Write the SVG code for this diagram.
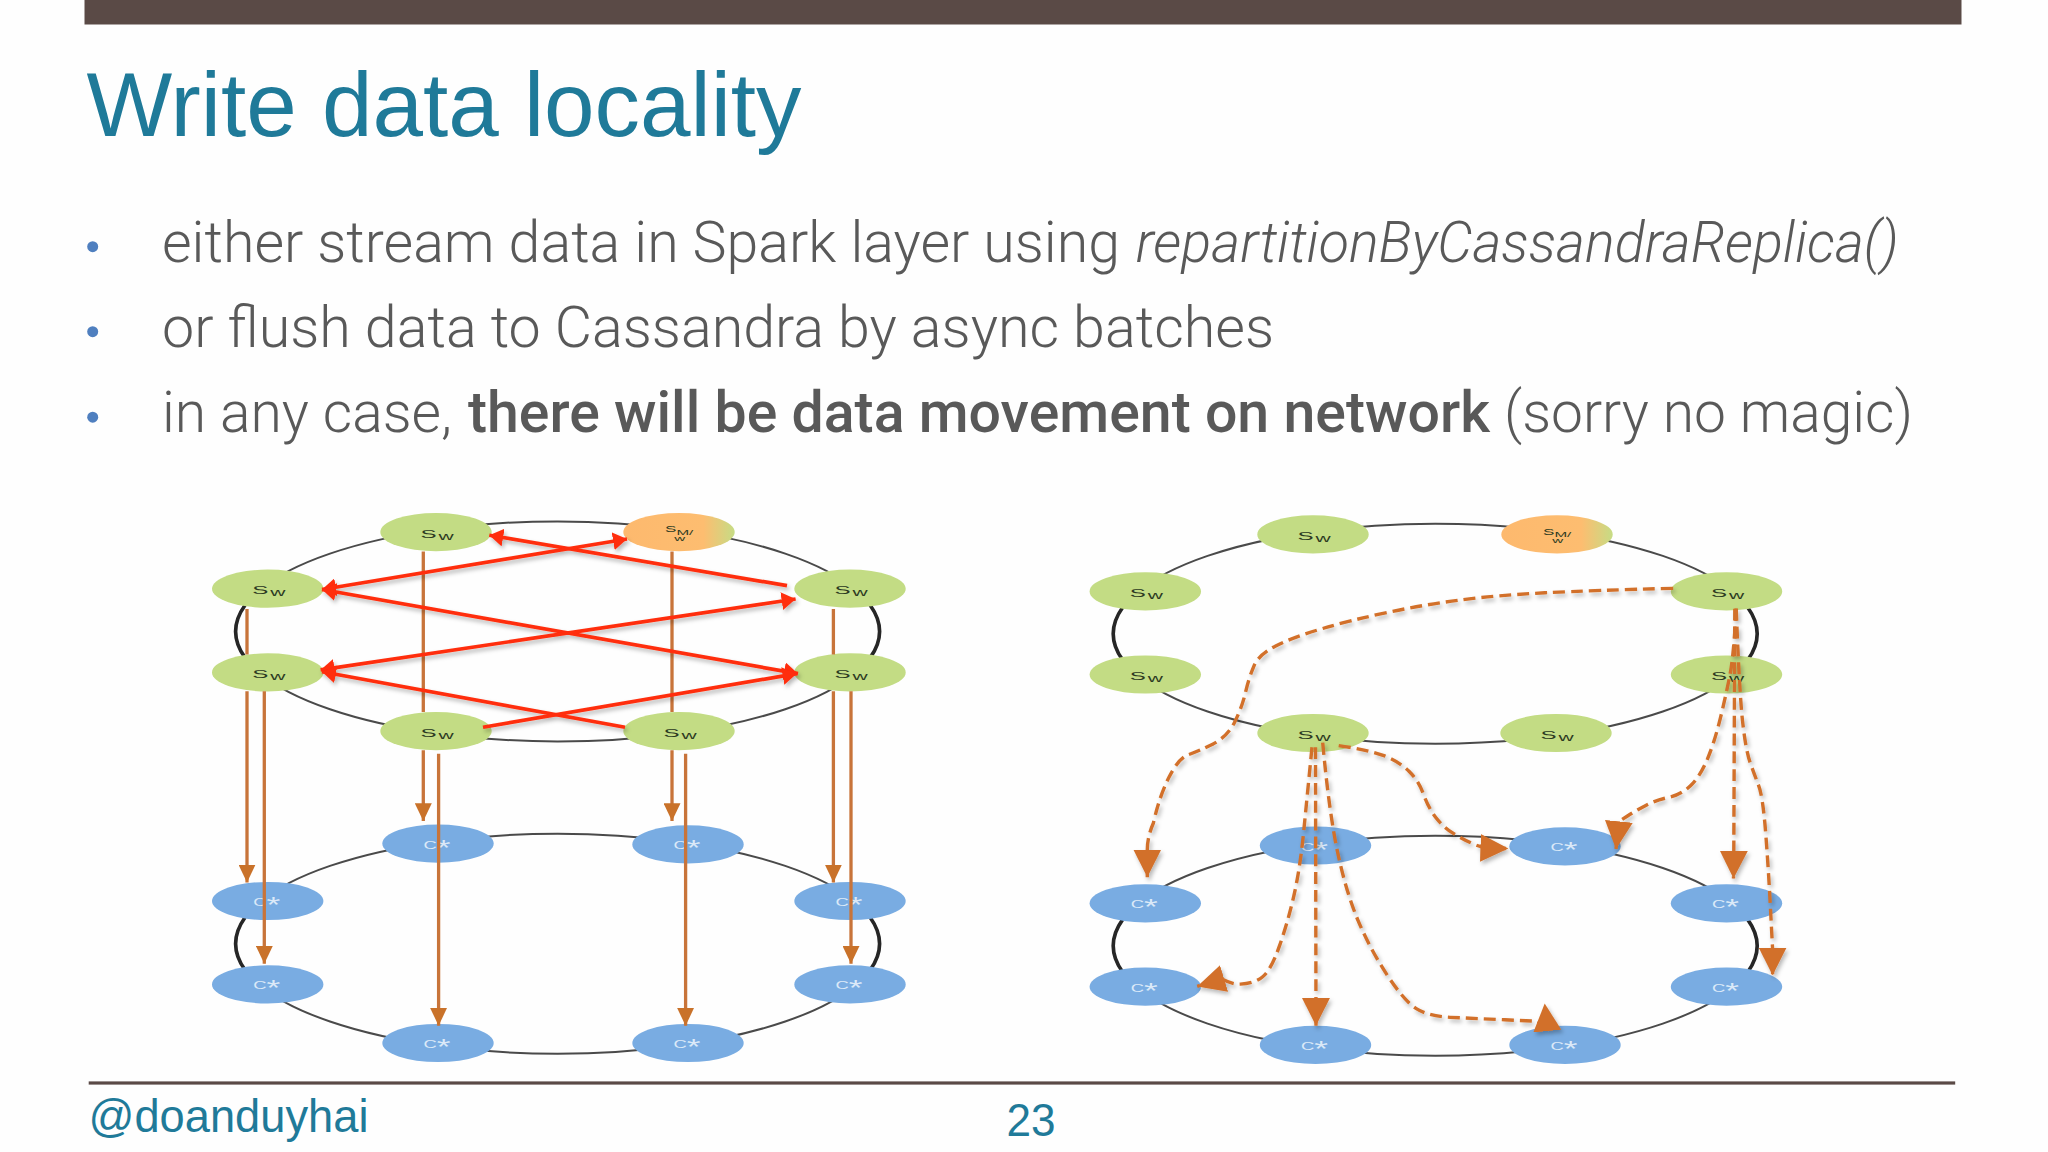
<svg xmlns="http://www.w3.org/2000/svg" width="2048" height="1152" viewBox="0 0 2048 1152">
<style>
.title{font-family:"Liberation Sans",Arial,sans-serif;fill:#1f7a99}
.body{font-family:Roboto,"Liberation Sans",sans-serif;font-weight:300;font-size:58px;fill:#595959}
.b{font-weight:500}
.i{font-style:italic}
.ring{fill:none;stroke:#4a4a4a;stroke-width:2}
.side{fill:none;stroke:#262626;stroke-width:3.6}
.s{fill:#c3dc84}
.c{fill:#79ace2}
.m{fill:url(#smg)}
.st{font-family:"Liberation Sans",Arial,sans-serif;font-size:11.5px;fill:#2c3a22}
.ct{font-family:"Liberation Sans",Arial,sans-serif;font-size:11.5px;fill:#dbe9f8}
.solid{fill:none;stroke:#c8743a;stroke-width:3.3;marker-end:url(#oh)}
.red{fill:none;stroke:#ff2d0c;stroke-width:3.7}
.dash{fill:none;stroke:#d2702a;stroke-width:3.4;stroke-dasharray:12 6;marker-end:url(#bh)}
</style>
<defs>
<linearGradient id="smg" x1="0" y1="0" x2="1" y2="0"><stop offset="0" stop-color="#fdb96e"/><stop offset=".72" stop-color="#fdbd70"/><stop offset="1" stop-color="#c6dc85"/></linearGradient>
<marker id="oh" markerUnits="userSpaceOnUse" markerWidth="18" markerHeight="17" refX="18" refY="8.5" orient="auto"><path d="M0,0L18,8.5L0,17Z" fill="#c9722a"/></marker>
<marker id="rh" markerUnits="userSpaceOnUse" markerWidth="14" markerHeight="18" refX="14" refY="9" orient="auto-start-reverse"><path d="M0,0L14,9L0,18Z" fill="#ff2d0c"/></marker>
<marker id="bh" markerUnits="userSpaceOnUse" markerWidth="28" markerHeight="28" refX="28" refY="14" orient="auto"><path d="M0,0L28,14L0,28Z" fill="#d2702a"/></marker>
<filter id="sh" x="-10%" y="-10%" width="120%" height="120%"><feDropShadow dx="2" dy="3" stdDeviation="2.2" flood-color="#000" flood-opacity=".28"/></filter>
</defs>
<rect width="2048" height="1152" fill="#fefefe"/>
<rect x="84.5" y="0" width="1877" height="24.5" fill="#5a4a46"/>
<text class="title" x="86.5" y="136" font-size="91" textLength="715" lengthAdjust="spacingAndGlyphs">Write data locality</text>
<circle cx="92.7" cy="246.7" r="5.5" fill="#4f7fbf"/>
<circle cx="92.7" cy="331.7" r="5.5" fill="#4f7fbf"/>
<circle cx="92.7" cy="417.2" r="5.5" fill="#4f7fbf"/>
<text class="body" y="261.7"><tspan x="162" textLength="958" lengthAdjust="spacingAndGlyphs">either stream data in Spark layer using</tspan> <tspan class="i" x="1135.7" textLength="763" lengthAdjust="spacingAndGlyphs">repartitionByCassandraReplica()</tspan></text>
<text class="body" x="162" y="346.7" textLength="1112" lengthAdjust="spacingAndGlyphs">or flush data to Cassandra by async batches</text>
<text class="body" y="432.3"><tspan x="162" textLength="290" lengthAdjust="spacingAndGlyphs">in any case,</tspan> <tspan class="b" x="468" textLength="1022" lengthAdjust="spacingAndGlyphs">there will be data movement on network</tspan> <tspan x="1504" textLength="409" lengthAdjust="spacingAndGlyphs">(sorry no magic)</tspan></text>

<g id="rings-left">
<ellipse class="ring" cx="557.6" cy="631.4" rx="321.9" ry="110"/>
<ellipse class="ring" cx="557.6" cy="943.7" rx="321.9" ry="110"/>
<path class="side" d="M245,605.2A321.9,110 0 0 0 245,657.6M870.2,605.2A321.9,110 0 0 1 870.2,657.6M245,917.5A321.9,110 0 0 0 245,969.9M870.2,917.5A321.9,110 0 0 1 870.2,969.9"/>
</g>
<g id="rings-right">
<ellipse class="ring" cx="1435.2" cy="633.7" rx="321.9" ry="110"/>
<ellipse class="ring" cx="1435.2" cy="945.8" rx="321.9" ry="110"/>
<path class="side" d="M1122.6,607.5A321.9,110 0 0 0 1122.6,659.9M1747.8,607.5A321.9,110 0 0 1 1747.8,659.9M1122.6,919.6A321.9,110 0 0 0 1122.6,972M1747.8,919.6A321.9,110 0 0 1 1747.8,972"/>
</g>

<g id="L-S1"><ellipse class="s" cx="436" cy="532.1" rx="55.7" ry="19.1"/><text class="st" transform="translate(420.5 537.7) scale(2.1 1)">S<tspan dx=".9" dy="2" font-size="10">w</tspan></text></g>
<g id="L-SM"><ellipse class="m" cx="679" cy="532.1" rx="55.7" ry="19.1"/><text class="st" style="font-size:9px" transform="translate(665 532.4) scale(1.9 1)">S<tspan dy="2.3" style="font-size:8px">M/</tspan><tspan x="4.9" dy="5.9" style="font-size:8px">w</tspan></text></g>
<g id="L-S2"><ellipse class="s" cx="267.7" cy="588.7" rx="55.7" ry="19.1"/><text class="st" transform="translate(252.2 594.3) scale(2.1 1)">S<tspan dx=".9" dy="2" font-size="10">w</tspan></text></g>
<g id="L-S3"><ellipse class="s" cx="850" cy="588.7" rx="55.7" ry="19.1"/><text class="st" transform="translate(834.5 594.3) scale(2.1 1)">S<tspan dx=".9" dy="2" font-size="10">w</tspan></text></g>
<g id="L-S4"><ellipse class="s" cx="267.7" cy="672.4" rx="55.7" ry="19.1"/><text class="st" transform="translate(252.2 678) scale(2.1 1)">S<tspan dx=".9" dy="2" font-size="10">w</tspan></text></g>
<g id="L-S5"><ellipse class="s" cx="850" cy="672.4" rx="55.7" ry="19.1"/><text class="st" transform="translate(834.5 678) scale(2.1 1)">S<tspan dx=".9" dy="2" font-size="10">w</tspan></text></g>
<g id="L-S6"><ellipse class="s" cx="436" cy="731.1" rx="55.7" ry="19.1"/><text class="st" transform="translate(420.5 736.7) scale(2.1 1)">S<tspan dx=".9" dy="2" font-size="10">w</tspan></text></g>
<g id="L-S7"><ellipse class="s" cx="679" cy="731.1" rx="55.7" ry="19.1"/><text class="st" transform="translate(663.5 736.7) scale(2.1 1)">S<tspan dx=".9" dy="2" font-size="10">w</tspan></text></g>

<g id="L-C1"><ellipse class="c" cx="438" cy="843.6" rx="55.7" ry="19.1"/><text class="ct" transform="translate(423.5 848.6) scale(1.6 1)">C<tspan dy="6" font-size="22">*</tspan></text></g>
<g id="L-C2"><ellipse class="c" cx="688" cy="844.4" rx="55.7" ry="19.1"/><text class="ct" transform="translate(673.5 849.4) scale(1.6 1)">C<tspan dy="6" font-size="22">*</tspan></text></g>
<g id="L-C3"><ellipse class="c" cx="267.7" cy="901" rx="55.7" ry="19.1"/><text class="ct" transform="translate(253.2 906) scale(1.6 1)">C<tspan dy="6" font-size="22">*</tspan></text></g>
<g id="L-C4"><ellipse class="c" cx="850" cy="901" rx="55.7" ry="19.1"/><text class="ct" transform="translate(835.5 906) scale(1.6 1)">C<tspan dy="6" font-size="22">*</tspan></text></g>
<g id="L-C5"><ellipse class="c" cx="267.7" cy="984.4" rx="55.7" ry="19.1"/><text class="ct" transform="translate(253.2 989.4) scale(1.6 1)">C<tspan dy="6" font-size="22">*</tspan></text></g>
<g id="L-C6"><ellipse class="c" cx="850" cy="984.4" rx="55.7" ry="19.1"/><text class="ct" transform="translate(835.5 989.4) scale(1.6 1)">C<tspan dy="6" font-size="22">*</tspan></text></g>
<g id="L-C7"><ellipse class="c" cx="438" cy="1043" rx="55.7" ry="19.1"/><text class="ct" transform="translate(423.5 1048) scale(1.6 1)">C<tspan dy="6" font-size="22">*</tspan></text></g>
<g id="L-C8"><ellipse class="c" cx="688" cy="1043" rx="55.7" ry="19.1"/><text class="ct" transform="translate(673.5 1048) scale(1.6 1)">C<tspan dy="6" font-size="22">*</tspan></text></g>

<g id="R-S1"><ellipse class="s" cx="1313" cy="534.4" rx="55.7" ry="19.1"/><text class="st" transform="translate(1297.5 540) scale(2.1 1)">S<tspan dx=".9" dy="2" font-size="10">w</tspan></text></g>
<g id="R-SM"><ellipse class="m" cx="1557" cy="534.4" rx="55.7" ry="19.1"/><text class="st" style="font-size:9px" transform="translate(1543 534.7) scale(1.9 1)">S<tspan dy="2.3" style="font-size:8px">M/</tspan><tspan x="4.9" dy="5.9" style="font-size:8px">w</tspan></text></g>
<g id="R-S2"><ellipse class="s" cx="1145.3" cy="591.4" rx="55.7" ry="19.1"/><text class="st" transform="translate(1129.8 597) scale(2.1 1)">S<tspan dx=".9" dy="2" font-size="10">w</tspan></text></g>
<g id="R-S3"><ellipse class="s" cx="1726.5" cy="591.4" rx="55.7" ry="19.1"/><text class="st" transform="translate(1711 597) scale(2.1 1)">S<tspan dx=".9" dy="2" font-size="10">w</tspan></text></g>
<g id="R-S4"><ellipse class="s" cx="1145.3" cy="674.5" rx="55.7" ry="19.1"/><text class="st" transform="translate(1129.8 680.1) scale(2.1 1)">S<tspan dx=".9" dy="2" font-size="10">w</tspan></text></g>
<g id="R-S5"><ellipse class="s" cx="1726.5" cy="674.5" rx="55.7" ry="19.1"/><text class="st" transform="translate(1711 680.1) scale(2.1 1)">S<tspan dx=".9" dy="2" font-size="10">w</tspan></text></g>
<g id="R-S6"><ellipse class="s" cx="1313" cy="733" rx="55.7" ry="19.1"/><text class="st" transform="translate(1297.5 738.6) scale(2.1 1)">S<tspan dx=".9" dy="2" font-size="10">w</tspan></text></g>
<g id="R-S7"><ellipse class="s" cx="1556" cy="733" rx="55.7" ry="19.1"/><text class="st" transform="translate(1540.5 738.6) scale(2.1 1)">S<tspan dx=".9" dy="2" font-size="10">w</tspan></text></g>

<g id="R-C1"><ellipse class="c" cx="1315.5" cy="845.5" rx="55.7" ry="19.1"/><text class="ct" transform="translate(1301 850.5) scale(1.6 1)">C<tspan dy="6" font-size="22">*</tspan></text></g>
<g id="R-C2"><ellipse class="c" cx="1565" cy="846.3" rx="55.7" ry="19.1"/><text class="ct" transform="translate(1550.5 851.3) scale(1.6 1)">C<tspan dy="6" font-size="22">*</tspan></text></g>
<g id="R-C3"><ellipse class="c" cx="1145.3" cy="903.3" rx="55.7" ry="19.1"/><text class="ct" transform="translate(1130.8 908.3) scale(1.6 1)">C<tspan dy="6" font-size="22">*</tspan></text></g>
<g id="R-C4"><ellipse class="c" cx="1726.5" cy="903.3" rx="55.7" ry="19.1"/><text class="ct" transform="translate(1712 908.3) scale(1.6 1)">C<tspan dy="6" font-size="22">*</tspan></text></g>
<g id="R-C5"><ellipse class="c" cx="1145.3" cy="986.7" rx="55.7" ry="19.1"/><text class="ct" transform="translate(1130.8 991.7) scale(1.6 1)">C<tspan dy="6" font-size="22">*</tspan></text></g>
<g id="R-C6"><ellipse class="c" cx="1726.5" cy="986.7" rx="55.7" ry="19.1"/><text class="ct" transform="translate(1712 991.7) scale(1.6 1)">C<tspan dy="6" font-size="22">*</tspan></text></g>
<g id="R-C7"><ellipse class="c" cx="1315.5" cy="1044.9" rx="55.7" ry="19.1"/><text class="ct" transform="translate(1301 1049.9) scale(1.6 1)">C<tspan dy="6" font-size="22">*</tspan></text></g>
<g id="R-C8"><ellipse class="c" cx="1565" cy="1044.9" rx="55.7" ry="19.1"/><text class="ct" transform="translate(1550.5 1049.9) scale(1.6 1)">C<tspan dy="6" font-size="22">*</tspan></text></g>

<g id="connectors" transform="translate(0 4.31) scale(1 .9912)">
<g id="left-vertical">
<path class="solid" d="M247,610V656M247,693V886"/>
<path class="solid" d="M264.3,693V968"/>
<path class="solid" d="M423.3,552V714M423.3,752.5V824"/>
<path class="solid" d="M438.6,756V1030.5"/>
<path class="solid" d="M672,552V714M672,752.5V824"/>
<path class="solid" d="M685.6,756V1030.5"/>
<path class="solid" d="M833.4,610V656M833.4,693V886"/>
<path class="solid" d="M851,693V968"/>
</g>
<g id="left-red" filter="url(#sh)">
<path class="red" marker-end="url(#rh)" d="M787,586.5L489.3,535.6"/>
<path class="red" marker-start="url(#rh)" marker-end="url(#rh)" d="M322,590.4L627,539.4"/>
<path class="red" marker-start="url(#rh)" marker-end="url(#rh)" d="M322,590.4L798,675.3"/>
<path class="red" marker-start="url(#rh)" marker-end="url(#rh)" d="M320.6,671.5L795.6,600"/>
<path class="red" marker-end="url(#rh)" d="M625,729.4L322,673.4"/>
<path class="red" marker-end="url(#rh)" d="M483,729.4L796.6,675.3"/>
</g>
<g id="right-dashed" filter="url(#sh)">
<path class="dash" d="M1673.2,589.2Q1593.2,591.2 1544.8,593.7Q1496.3,596.2 1459.9,601Q1423.5,605.8 1387.2,613.6Q1350.8,621.3 1321.8,630Q1292.7,638.6 1275.7,647.3Q1258.7,656 1253.9,667.6Q1249,679.2 1245.4,694.6Q1241.8,710 1234.5,724.5Q1227.2,739 1212.7,746.4Q1198.1,753.7 1188.5,757Q1178.8,760.3 1169.1,779.6Q1159.4,798.9 1153.4,826Q1147.3,840 1147.3,853L1147.3,880.7"/>
<path class="dash" d="M1736.2,609.7Q1733.8,656 1730.2,675.3Q1726.5,694.6 1720.5,719.7Q1714.4,744.8 1707.1,762.2Q1699.8,779.6 1690.2,788.7Q1680.5,797.7 1668.4,800.2Q1656.2,802.7 1645.3,808.5Q1634.4,814.3 1626.7,819.4L1618.9,824.4L1616,852.2"/>
<path class="dash" d="M1734.8,609.7L1733.8,855L1733.5,882"/>
<path class="dash" d="M1736.2,609.7Q1739.6,698.5 1742.8,725.5Q1745.9,752.5 1750,764.5Q1754.2,776.5 1758.5,787.7Q1762.9,798.9 1765.8,837.5Q1768.7,876.1 1770.6,914.7L1772.6,953.3L1772.6,979.6"/>
<path class="dash" d="M1338.7,747.9Q1370.2,752.5 1384.7,758.3Q1399.3,764.1 1409,773.7Q1418.7,783.4 1423.5,797Q1428.4,810.5 1435.6,820.2Q1442.9,829.8 1452.6,836Q1462.3,842.1 1472,846.5Q1481.7,851 1490,851.3L1508.4,851.8"/>
<path class="dash" d="M1312,749.5Q1307.2,798.9 1303.6,835.5Q1300,872.2 1293.9,899.2Q1287.8,926.3 1279.3,950.4Q1270.9,974.6 1262.4,981.3Q1253.9,988.1 1240.4,988.5Q1232,988.9 1221.9,983.4L1197.2,990.8"/>
<path class="dash" d="M1315.5,749.5L1316,1030.5"/>
<path class="dash" d="M1322.7,744.8Q1329,814.3 1337.5,854.9Q1346,895.4 1358.1,924.4Q1370.2,953.3 1387.2,979.4Q1404.2,1005.5 1416.3,1013.2Q1428.4,1020.9 1450.2,1022Q1472,1023 1504.7,1024.5L1537.5,1026L1547,1032.5L1544.7,1008"/>
</g>
</g>

<rect x="88.7" y="1081.4" width="1866.5" height="3.2" fill="#5a4a46"/>
<text class="title" x="88.5" y="1131.7" font-size="47" textLength="280" lengthAdjust="spacingAndGlyphs">@doanduyhai</text>
<text class="title" x="1006.5" y="1136" font-size="47" textLength="49" lengthAdjust="spacingAndGlyphs">23</text>
</svg>
